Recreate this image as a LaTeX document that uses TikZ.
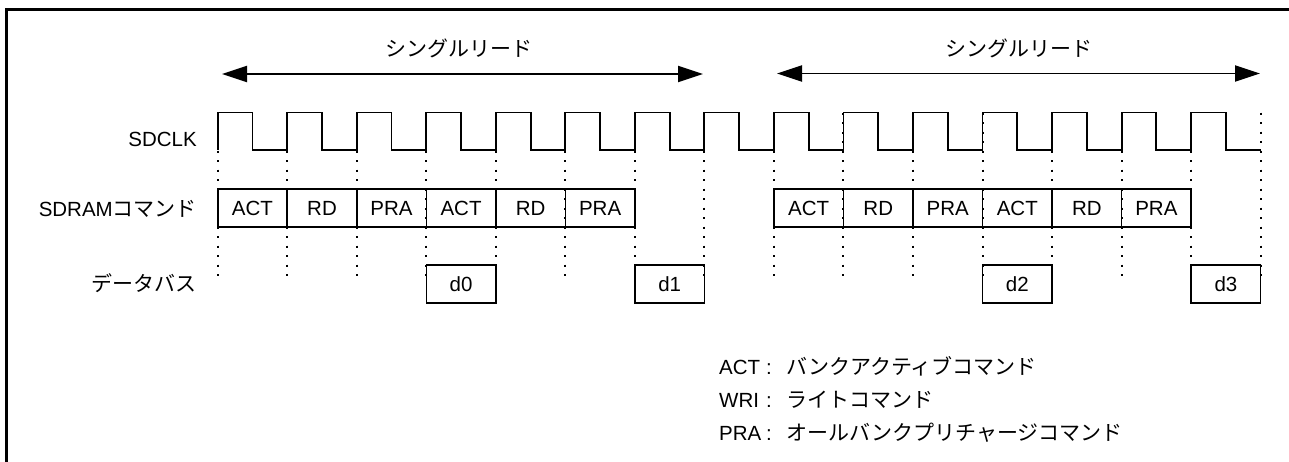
\documentclass[tikz,border=0pt]{standalone}
\usepackage{fontspec}
\setmainfont{Liberation Sans}
\newfontfamily\cjkfont{Noto Sans CJK JP}
\newcommand\jtext[1]{{\cjkfont\fontsize{21}{25}\selectfont #1}}
\usetikzlibrary{arrows.meta}
\tikzset{
  clk/.style={line width=1.9pt, line join=miter},
  dotline/.style={line width=2pt, dash pattern=on 2pt off 7.5pt},
  cmdbox/.style={draw, line width=1.6pt, minimum width=69.53pt, minimum height=37.5pt, inner sep=0pt, font=\fontsize{20.5}{24}\selectfont},
  databox/.style={draw, line width=1.6pt, minimum width=69.53pt, minimum height=38pt, inner sep=0pt, font=\fontsize{20.5}{24}\selectfont},
  bigarrow/.style={line width=1.9pt, {Triangle[length=25pt,width=16pt]}-{Triangle[length=25pt,width=16pt]}},
  lbl/.style={inner sep=0pt, font=\fontsize{20.5}{24}\selectfont},
}
\begin{document}
\begin{tikzpicture}[x=1pt,y=-1pt]
\useasboundingbox (0,0) rectangle (1289,461);
% frame
\draw[line width=2.8pt] (6.7,470) -- (6.7,9.3) -- (1300,9.3);
% guide coordinates
\foreach \i in {0,...,15} {
  \pgfmathsetmacro\xx{217.7+69.53*\i}
  \coordinate (e\i) at (\xx,112.5);
  \coordinate (f\i) at (\xx,283);
}
% clock
\draw[clk] (217.7,150) foreach \i in {0,...,14} { -- ++(0,-37.5) -- ++(34.77,0) -- ++(0,37.5) -- ++(34.76,0) };
% command boxes
\foreach \i/\t in {0/ACT,1/RD,2/PRA,3/ACT,4/RD,5/PRA,8/ACT,9/RD,10/PRA,11/ACT,12/RD,13/PRA} {
  \pgfmathsetmacro\xx{217.7+69.53*\i+34.77}
  \node[cmdbox] (c\i) at (\xx,208) {\t};
}
% dotted guide lines
\foreach \i in {0,...,15} {
  \draw[dotline] (e\i) -- (f\i);
}
% data boxes
\foreach \i/\t in {3/d0,6/d1,11/d2,14/d3} {
  \pgfmathsetmacro\xx{217.7+69.53*\i+34.77}
  \node[databox] (d\i) at (\xx,284) {\t};
}
% arrows
\coordinate (a1l) at (222,74);
\coordinate (a1r) at (703,74);
\coordinate (a2l) at (777,73.5);
\coordinate (a2r) at (1260,73.5);
\draw[bigarrow] (a1l) -- (a1r);
\draw[bigarrow] (a2l) -- (a2r);
\node[lbl, anchor=base] (t1) at (459,56) {\jtext{シングルリード}};
\node[lbl, anchor=base] (t2) at (1019,56) {\jtext{シングルリード}};
% row labels
\node[lbl, anchor=base east] (r1) at (197,146) {SDCLK};
\node[lbl, anchor=base east] (r2) at (197,216) {SDRAM\jtext{コマンド}};
\node[lbl, anchor=base east] (r3) at (197,291) {\jtext{データバス}};
% legend
\node[lbl, anchor=base west] (k1) at (719,374.5) {\makebox[47pt][l]{ACT}:};
\node[lbl, anchor=base west] (k2) at (719,407) {\makebox[47pt][l]{WRI}:};
\node[lbl, anchor=base west] (k3) at (719,440) {\makebox[47pt][l]{PRA}:};
\node[lbl, anchor=base west] (v1) at (786,374.5) {\jtext{バンクアクティブコマンド}};
\node[lbl, anchor=base west] (v2) at (786,407) {\jtext{ライトコマンド}};
\node[lbl, anchor=base west] (v3) at (786,440) {\jtext{オールバンクプリチャージコマンド}};
\end{tikzpicture}
\end{document}
